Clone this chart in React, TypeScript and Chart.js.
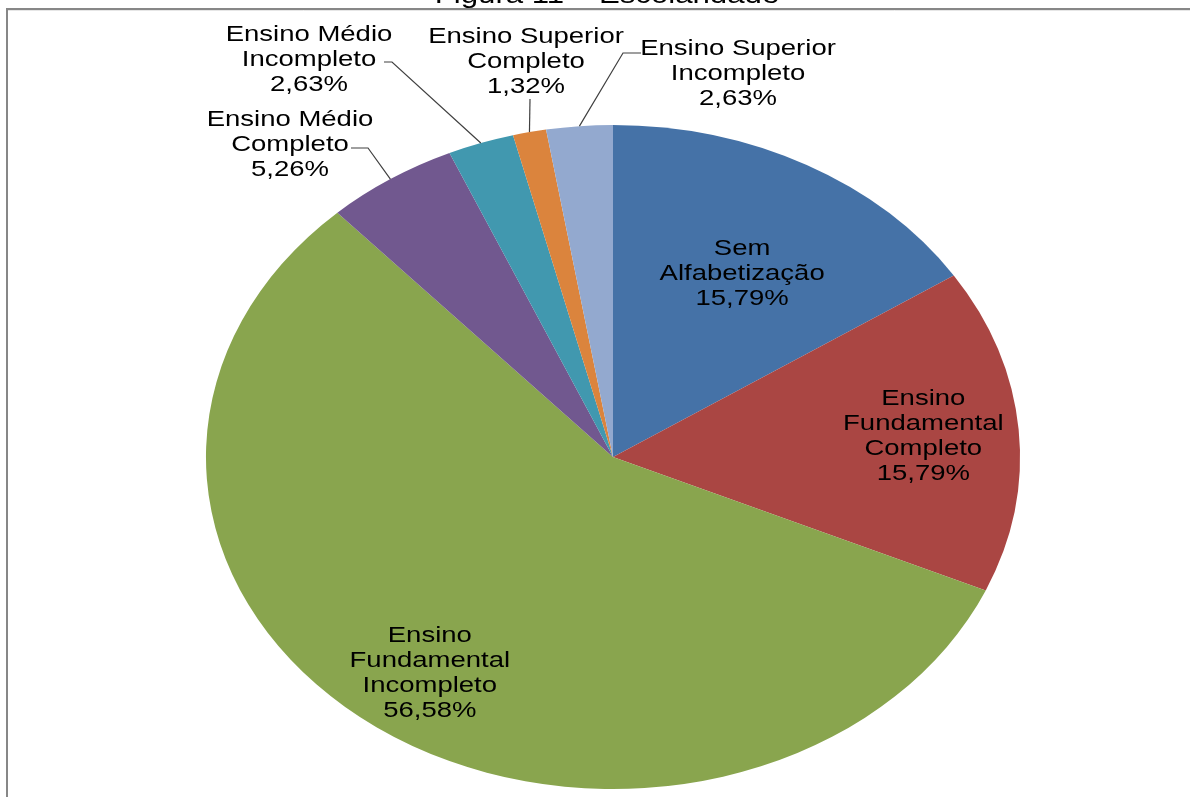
import React, { useEffect, useRef } from "react";
import { Chart, registerables } from "chart.js";

Chart.register(...registerables);

// ---- Data ----
const chartTitle = "Figura 11 – Escolaridade";
const categories = [
  "Sem Alfabetização",
  "Ensino Fundamental Completo",
  "Ensino Fundamental Incompleto",
  "Ensino Médio Completo",
  "Ensino Médio Incompleto",
  "Ensino Superior Completo",
  "Ensino Superior Incompleto",
];
const labelLines = [
  ["Sem", "Alfabetização"],
  ["Ensino", "Fundamental", "Completo"],
  ["Ensino", "Fundamental", "Incompleto"],
  ["Ensino Médio", "Completo"],
  ["Ensino Médio", "Incompleto"],
  ["Ensino Superior", "Completo"],
  ["Ensino Superior", "Incompleto"],
];
const percentages = [15.79, 15.79, 56.58, 5.26, 2.63, 1.32, 2.63];
const sliceColors = ["#4572A7", "#AA4643", "#89A54E", "#71588F", "#4198AF", "#DB843D", "#93A9CF"];

// ---- Layout ----
const W = 1190;
const H = 797;
const CX = 613;
const R = 332;
const SX = 1.226; // horizontal stretch of the pie (ellipse)
const TEXT_SX = 1.25; // horizontal stretch of the text
const FONT = '22px "Liberation Sans", Arial, sans-serif';
const LINE_H = 25;

// inside labels: [fraction of radius, angle offset in degrees] along mid-angle
const insideLayout: Record<number, [number, number]> = {
  0: [0.636, 1.5],
  1: [0.765, 0],
  2: [0.791, -0.85],
};
// outside labels: text block centre and leader elbow points
const outsideLayout: Record<number, { c: [number, number]; path: [number, number][] }> = {
  3: { c: [290, 145], path: [[351, 148], [368, 148]] },
  4: { c: [309, 60], path: [[384, 62], [392, 62]] },
  5: { c: [526, 62], path: [[530, 99]] },
  6: { c: [738, 74], path: [[641, 53], [623, 53]] },
};

const fmt = (v: number) => v.toFixed(2).replace(".", ",") + "%";

const stretchPlugin = {
  id: "stretch",
  beforeDatasetsDraw(chart: any) {
    const ctx = chart.ctx;
    ctx.save();
    ctx.translate(CX, 0);
    ctx.scale(SX, 1);
    ctx.translate(-CX, 0);
  },
  afterDatasetsDraw(chart: any) {
    chart.ctx.restore();
  },
};

const framePlugin = {
  id: "frame",
  beforeDraw(chart: any) {
    const ctx = chart.ctx;
    ctx.save();
    ctx.fillStyle = "#ffffff";
    ctx.fillRect(0, 0, W, H);
    // cut-off title above frame
    ctx.fillStyle = "#000000";
    ctx.font = '26px "Liberation Sans", Arial, sans-serif';
    ctx.textAlign = "center";
    ctx.textBaseline = "alphabetic";
    ctx.save();
    ctx.beginPath();
    ctx.rect(0, 0, W, 8);
    ctx.clip();
    ctx.translate(607, 3);
    ctx.scale(1.2, 1);
    ctx.fillText(chartTitle, 0, 0);
    ctx.restore();
    // frame
    ctx.strokeStyle = "#878787";
    ctx.lineWidth = 2;
    ctx.beginPath();
    ctx.moveTo(6, 9);
    ctx.lineTo(W, 9);
    ctx.moveTo(7, 8);
    ctx.lineTo(7, H);
    ctx.stroke();
    ctx.strokeStyle = "#e6e6e6";
    ctx.lineWidth = 1;
    ctx.beginPath();
    ctx.moveTo(8, 10.5);
    ctx.lineTo(W, 10.5);
    ctx.stroke();
    ctx.restore();
  },
};

const labelPlugin = {
  id: "pieLabels",
  afterDraw(chart: any) {
    const ctx = chart.ctx;
    const meta = chart.getDatasetMeta(0);
    ctx.save();
    ctx.font = FONT;
    ctx.fillStyle = "#000000";
    ctx.textAlign = "center";
    ctx.textBaseline = "middle";
    meta.data.forEach((arc: any, i: number) => {
      const p = arc.getProps(["x", "y", "startAngle", "endAngle", "outerRadius"], true);
      const mid = (p.startAngle + p.endAngle) / 2;
      const lines = [...labelLines[i], fmt(percentages[i])];
      let cx: number;
      let cy: number;
      if (insideLayout[i] !== undefined) {
        const [f, off] = insideLayout[i];
        const a = mid + (off * Math.PI) / 180;
        const rr = p.outerRadius * f;
        cx = p.x + SX * rr * Math.cos(a);
        cy = p.y + rr * Math.sin(a);
      } else {
        const lay = outsideLayout[i];
        cx = lay.c[0];
        cy = lay.c[1];
        const ex = p.x + SX * p.outerRadius * Math.cos(mid);
        const ey = p.y + p.outerRadius * Math.sin(mid);
        ctx.save();
        ctx.strokeStyle = "#404040";
        ctx.lineWidth = 1.2;
        ctx.beginPath();
        lay.path.forEach((pt, k) => {
          if (k === 0) ctx.moveTo(pt[0], pt[1]);
          else ctx.lineTo(pt[0], pt[1]);
        });
        ctx.lineTo(ex, ey);
        ctx.stroke();
        ctx.restore();
      }
      const n = lines.length;
      lines.forEach((ln, k) => {
        const y = cy + (k - (n - 1) / 2) * LINE_H;
        ctx.save();
        ctx.translate(cx, y);
        ctx.scale(TEXT_SX, 1);
        ctx.fillText(ln, 0, 0);
        ctx.restore();
      });
    });
    ctx.restore();
  },
};

export default function App() {
  const canvasRef = useRef<HTMLCanvasElement | null>(null);

  useEffect(() => {
    const canvas = canvasRef.current;
    if (!canvas) return;
    const chart = new Chart(canvas, {
      type: "pie",
      data: {
        labels: categories,
        datasets: [
          {
            data: percentages,
            backgroundColor: sliceColors,
            borderWidth: 0,
            radius: R,
            clip: false,
          } as any,
        ],
      },
      options: {
        responsive: false,
        animation: false,
        devicePixelRatio: 1,
        layout: { padding: { left: 36, right: 0, top: 117, bottom: 0 } },
        plugins: {
          legend: { display: false },
          tooltip: { enabled: false },
          title: { display: false },
        },
        events: [],
      },
      plugins: [framePlugin, stretchPlugin, labelPlugin],
    });
    return () => chart.destroy();
  }, []);

  return (
    <div style={{ position: "absolute", left: 0, top: 0, width: W, height: H, overflow: "hidden" }}>
      <canvas ref={canvasRef} width={W} height={H} style={{ width: W, height: H, display: "block" }} />
    </div>
  );
}
